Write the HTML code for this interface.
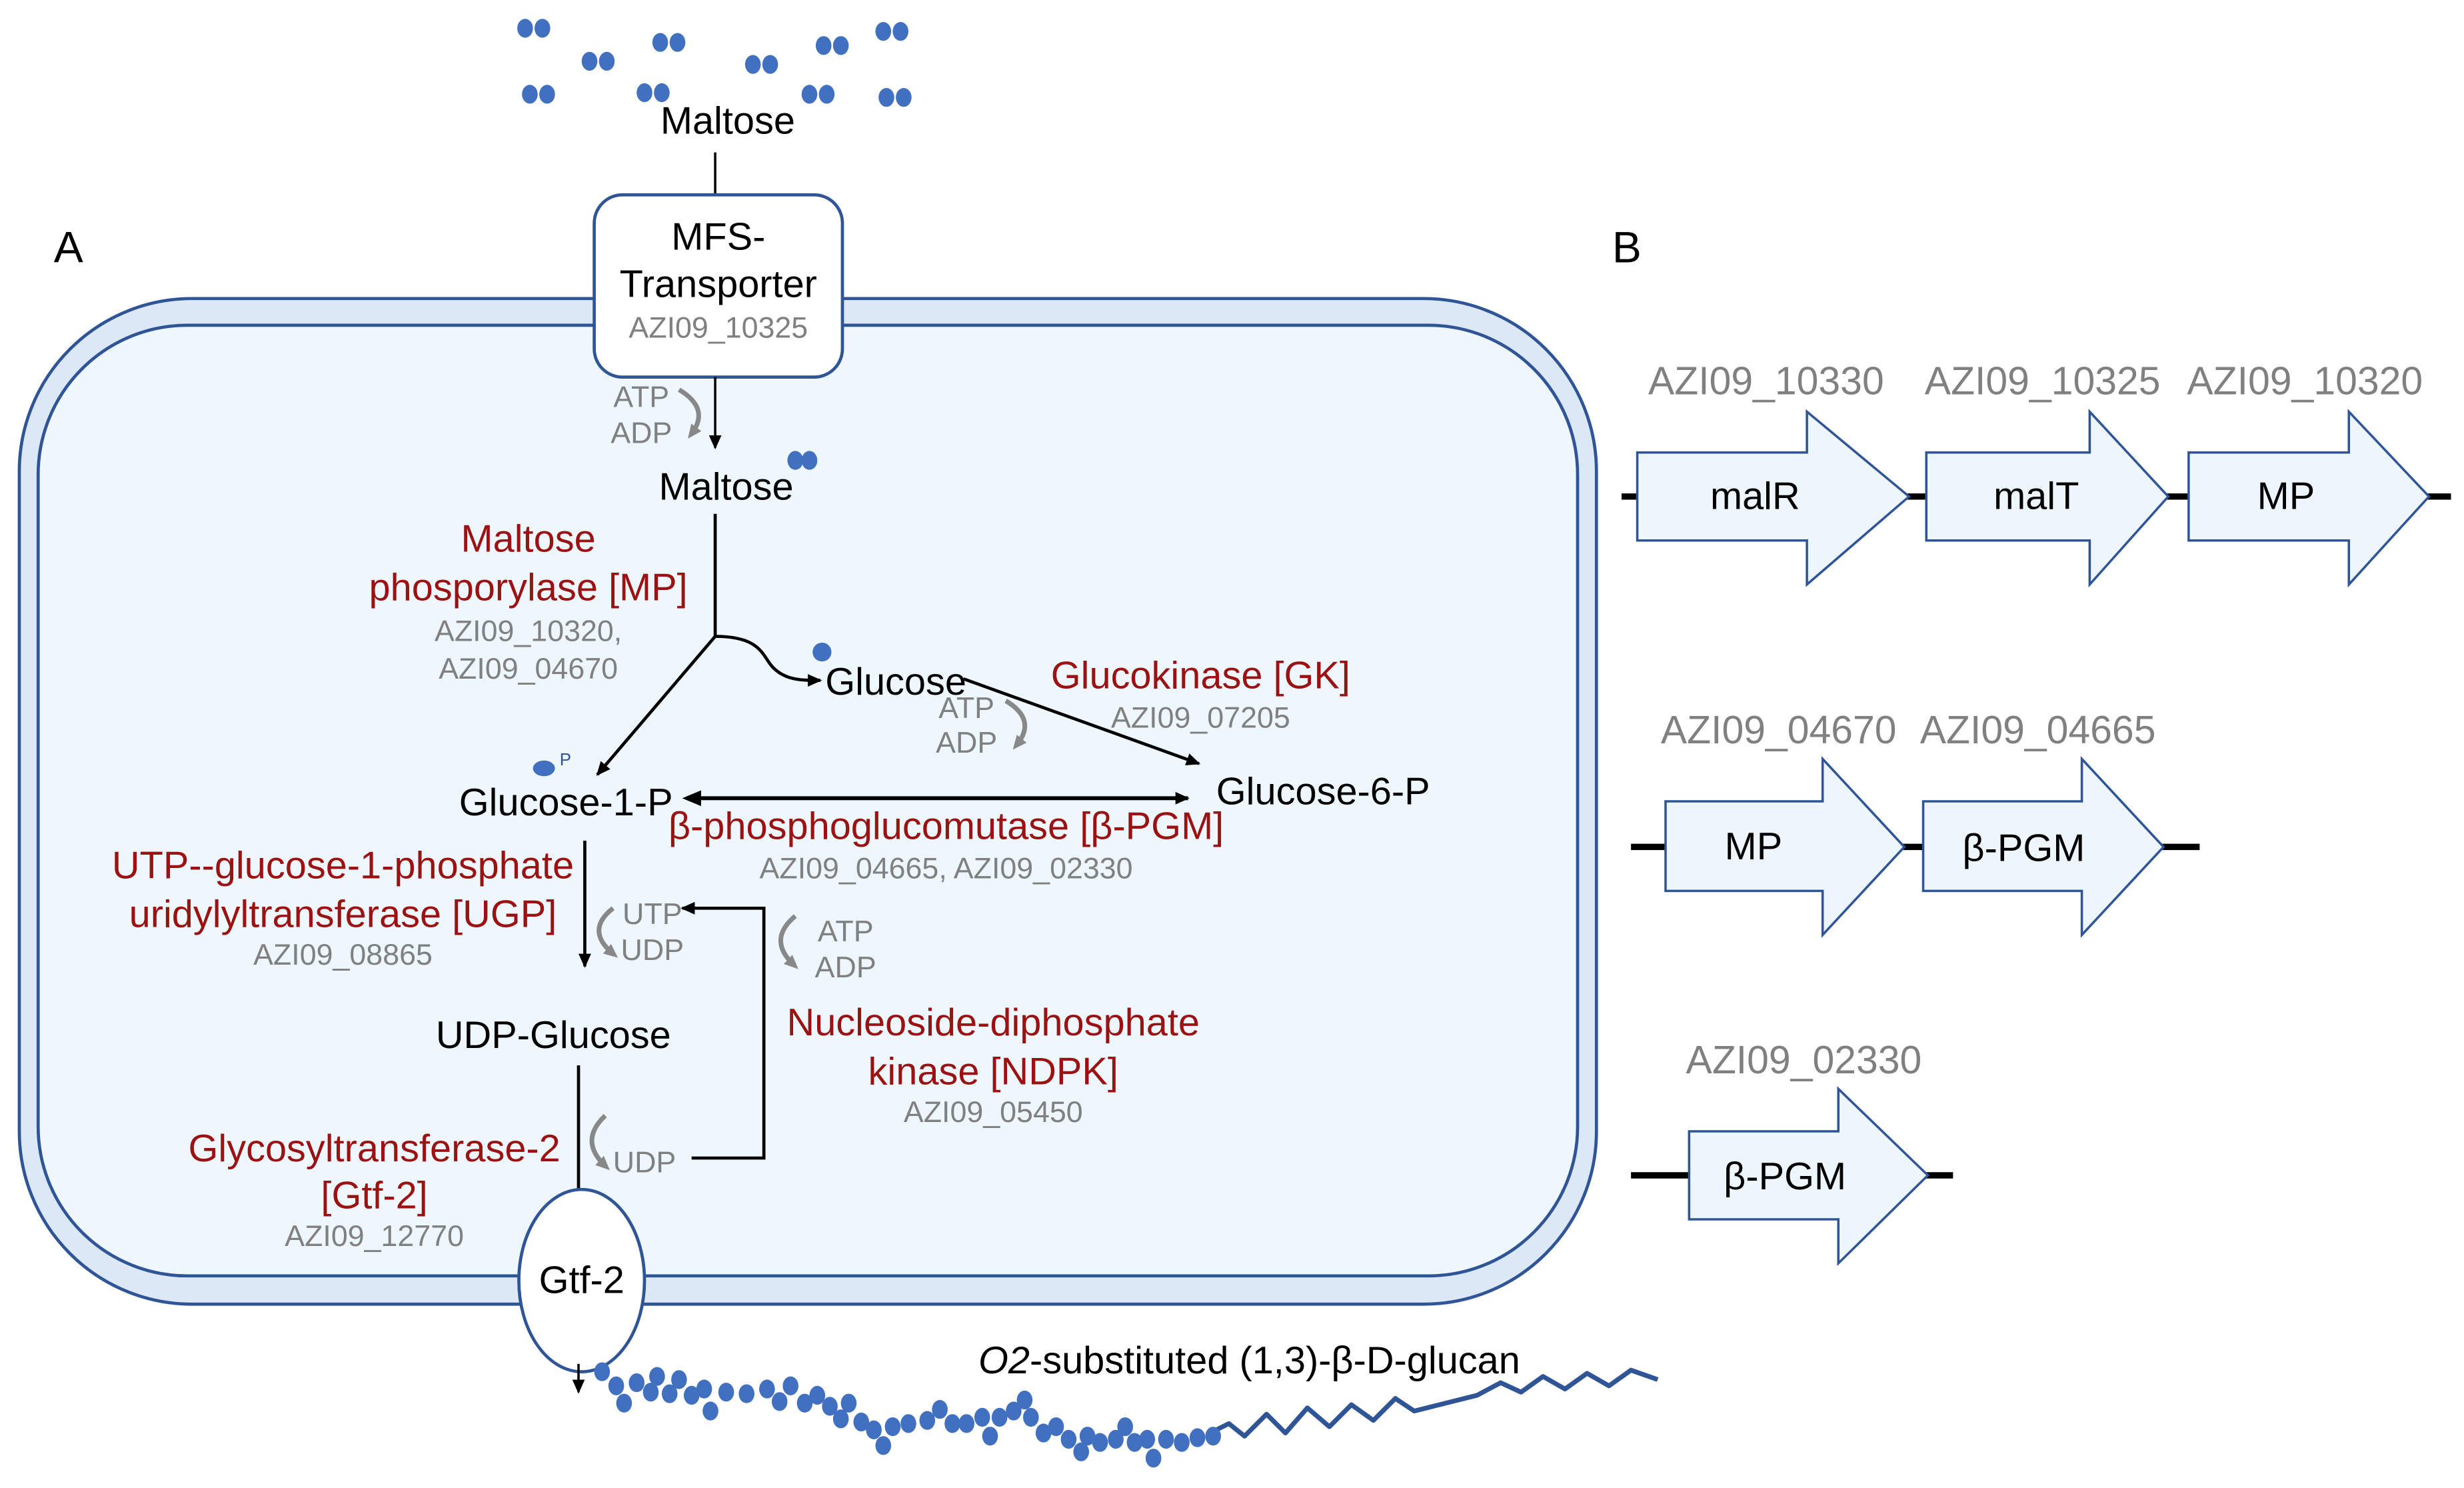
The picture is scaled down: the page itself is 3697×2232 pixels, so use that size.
<!DOCTYPE html>
<html><head><meta charset="utf-8"><style>
html,body{margin:0;padding:0;background:#fff}
svg{display:block}
text{font-family:"Liberation Sans",sans-serif}
.k{fill:#000;font-size:24.5px}
.r{fill:#9b1212;font-size:24.5px}
.g{fill:#808080;font-size:19px}
.gb{fill:#808080;font-size:25px}
.d{fill:#4170c0}
</style></head><body>
<svg width="3697" height="2232" viewBox="0 0 1568 947" xmlns="http://www.w3.org/2000/svg">
<defs>
<marker id="a" markerWidth="10" markerHeight="10" refX="8" refY="5" orient="auto" markerUnits="userSpaceOnUse"><path d="M0,1 L9,5 L0,9 z" fill="#000"/></marker>
<marker id="gA" markerWidth="10" markerHeight="10" refX="5" refY="5" orient="auto" markerUnits="userSpaceOnUse"><path d="M0,1 L9,5 L0,9 z" fill="#888"/></marker>
</defs>
<rect x="12" y="190" width="1004" height="640" rx="110" fill="#dce8f5" stroke="#2f5597" stroke-width="2"/>
<rect x="24" y="207" width="980" height="605" rx="95" fill="#eef7fe" stroke="#2f5597" stroke-width="2"/>
<g class="d">
<ellipse cx="334" cy="18" rx="5" ry="6"/><ellipse cx="345" cy="18" rx="5" ry="6"/>
<ellipse cx="375" cy="39" rx="5" ry="6"/><ellipse cx="386" cy="39" rx="5" ry="6"/>
<ellipse cx="420" cy="27" rx="5" ry="6"/><ellipse cx="431" cy="27" rx="5" ry="6"/>
<ellipse cx="479" cy="41" rx="5" ry="6"/><ellipse cx="490" cy="41" rx="5" ry="6"/>
<ellipse cx="524" cy="29" rx="5" ry="6"/><ellipse cx="535" cy="29" rx="5" ry="6"/>
<ellipse cx="562" cy="20" rx="5" ry="6"/><ellipse cx="573" cy="20" rx="5" ry="6"/>
<ellipse cx="337" cy="60" rx="5" ry="6"/><ellipse cx="348" cy="60" rx="5" ry="6"/>
<ellipse cx="410" cy="59" rx="5" ry="6"/><ellipse cx="421" cy="59" rx="5" ry="6"/>
<ellipse cx="515" cy="60" rx="5" ry="6"/><ellipse cx="526" cy="60" rx="5" ry="6"/>
<ellipse cx="564" cy="62" rx="5" ry="6"/><ellipse cx="575" cy="62" rx="5" ry="6"/>
<ellipse cx="506" cy="293" rx="5" ry="6"/><ellipse cx="515" cy="293" rx="5" ry="6"/>
<ellipse cx="523" cy="415" rx="6" ry="6"/>
<ellipse cx="346" cy="489" rx="7" ry="5"/>
</g>
<text x="356" y="487" fill="#2f5597" font-size="11">P</text>
<text x="463" y="85" class="k" text-anchor="middle">Maltose</text>
<line x1="455" y1="97" x2="455" y2="124" stroke="#000" stroke-width="1.5"/>
<rect x="378" y="124" width="158" height="116" rx="18" fill="#fff" stroke="#2f5597" stroke-width="2"/>
<text x="457" y="159" class="k" text-anchor="middle">MFS-</text>
<text x="457" y="189" class="k" text-anchor="middle">Transporter</text>
<text x="457" y="215" class="g" text-anchor="middle">AZI09_10325</text>
<text x="34" y="167" font-size="28" fill="#000">A</text>
<text x="1026" y="167" font-size="28" fill="#000">B</text>
<line x1="455" y1="240" x2="455" y2="285" stroke="#000" stroke-width="1.5" marker-end="url(#a)"/>
<text x="408" y="259" class="g" text-anchor="middle">ATP</text>
<text x="408" y="282" class="g" text-anchor="middle">ADP</text>
<path d="M432,248 Q452,260 440,276" fill="none" stroke="#888" stroke-width="3" marker-end="url(#gA)"/>
<text x="462" y="318" class="k" text-anchor="middle">Maltose</text>
<line x1="455" y1="327" x2="455" y2="405" stroke="#000" stroke-width="2"/>
<line x1="455" y1="405" x2="380" y2="493" stroke="#000" stroke-width="2" marker-end="url(#a)"/>
<path d="M455,405 C485,405 485,418 492,425 C500,433 510,433 522,433" fill="none" stroke="#000" stroke-width="2" marker-end="url(#a)"/>
<text x="336" y="351" class="r" text-anchor="middle">Maltose</text>
<text x="336" y="382" class="r" text-anchor="middle">phosporylase [MP]</text>
<text x="336" y="408" class="g" text-anchor="middle">AZI09_10320,</text>
<text x="336" y="432" class="g" text-anchor="middle">AZI09_04670</text>
<text x="570" y="442" class="k" text-anchor="middle">Glucose</text>
<line x1="613" y1="432" x2="763" y2="486" stroke="#000" stroke-width="2" marker-end="url(#a)"/>
<text x="764" y="438" class="r" text-anchor="middle">Glucokinase [GK]</text>
<text x="764" y="463" class="g" text-anchor="middle">AZI09_07205</text>
<text x="615" y="457" class="g" text-anchor="middle">ATP</text>
<text x="615" y="479" class="g" text-anchor="middle">ADP</text>
<path d="M640,446 Q660,458 647,474" fill="none" stroke="#888" stroke-width="3" marker-end="url(#gA)"/>
<text x="360" y="519" class="k" text-anchor="middle">Glucose-1-P</text>
<text x="842" y="512" class="k" text-anchor="middle">Glucose-6-P</text>
<line x1="440" y1="508" x2="756" y2="508" stroke="#000" stroke-width="2.5" marker-end="url(#a)"/>
<path d="M434,508 L446,503 L446,513 z" fill="#000"/>
<text x="602" y="534" class="r" text-anchor="middle">β-phosphoglucomutase [β-PGM]</text>
<text x="602" y="559" class="g" text-anchor="middle">AZI09_04665, AZI09_02330</text>
<line x1="372" y1="535" x2="372" y2="615" stroke="#000" stroke-width="2" marker-end="url(#a)"/>
<text x="218" y="559" class="r" text-anchor="middle">UTP--glucose-1-phosphate</text>
<text x="218" y="590" class="r" text-anchor="middle">uridylyltransferase [UGP]</text>
<text x="218" y="614" class="g" text-anchor="middle">AZI09_08865</text>
<text x="415" y="588" class="g" text-anchor="middle">UTP</text>
<text x="415" y="611" class="g" text-anchor="middle">UDP</text>
<path d="M390,578 Q372,592 390,607" fill="none" stroke="#888" stroke-width="3" marker-end="url(#gA)"/>
<polyline points="440,737 486,737 486,578 434,578" fill="none" stroke="#000" stroke-width="2" marker-end="url(#a)"/>
<text x="538" y="599" class="g" text-anchor="middle">ATP</text>
<text x="538" y="622" class="g" text-anchor="middle">ADP</text>
<path d="M506,583 Q488,598 505,614" fill="none" stroke="#888" stroke-width="3" marker-end="url(#gA)"/>
<text x="632" y="659" class="r" text-anchor="middle">Nucleoside-diphosphate</text>
<text x="632" y="690" class="r" text-anchor="middle">kinase [NDPK]</text>
<text x="632" y="714" class="g" text-anchor="middle">AZI09_05450</text>
<text x="352" y="667" class="k" text-anchor="middle">UDP-Glucose</text>
<line x1="368" y1="678" x2="368" y2="758" stroke="#000" stroke-width="2"/>
<text x="410" y="746" class="g" text-anchor="middle">UDP</text>
<path d="M385,710 Q368,726 385,742" fill="none" stroke="#888" stroke-width="3" marker-end="url(#gA)"/>
<text x="238" y="739" class="r" text-anchor="middle">Glycosyltransferase-2</text>
<text x="238" y="769" class="r" text-anchor="middle">[Gtf-2]</text>
<text x="238" y="793" class="g" text-anchor="middle">AZI09_12770</text>
<ellipse cx="370" cy="815" rx="40" ry="58" fill="#fff" stroke="#2f5597" stroke-width="2"/>
<text x="370" y="823" class="k" text-anchor="middle">Gtf-2</text>
<line x1="368" y1="868" x2="368" y2="886" stroke="#000" stroke-width="1.5" marker-end="url(#a)"/>
<path d="M770,912 L782,906 L792,914 L806,900 L818,912 L832,896 L846,908 L860,894 L874,904 L888,890 L900,898 L940,888 L955,880 L968,886 L982,876 L996,884 L1010,874 L1024,882 L1038,872 L1055,878" fill="none" stroke="#2f5597" stroke-width="3" stroke-linejoin="round"/>
<g class="d">
<ellipse cx="383" cy="873" rx="5" ry="6"/><ellipse cx="392" cy="882" rx="5" ry="6"/><ellipse cx="397" cy="893" rx="5" ry="6"/>
<ellipse cx="405" cy="880" rx="5" ry="6"/><ellipse cx="414" cy="886" rx="5" ry="6"/><ellipse cx="418" cy="876" rx="5" ry="6"/>
<ellipse cx="426" cy="887" rx="5" ry="6"/><ellipse cx="432" cy="878" rx="5" ry="6"/><ellipse cx="440" cy="888" rx="5" ry="6"/>
<ellipse cx="448" cy="884" rx="5" ry="6"/><ellipse cx="452" cy="898" rx="5" ry="6"/><ellipse cx="462" cy="886" rx="5" ry="6"/>
<ellipse cx="475" cy="887" rx="5" ry="6"/><ellipse cx="488" cy="884" rx="5" ry="6"/><ellipse cx="496" cy="892" rx="5" ry="6"/>
<ellipse cx="503" cy="882" rx="5" ry="6"/><ellipse cx="512" cy="893" rx="5" ry="6"/><ellipse cx="520" cy="888" rx="5" ry="6"/>
<ellipse cx="528" cy="895" rx="5" ry="6"/><ellipse cx="535" cy="903" rx="5" ry="6"/><ellipse cx="540" cy="893" rx="5" ry="6"/>
<ellipse cx="548" cy="905" rx="5" ry="6"/><ellipse cx="556" cy="910" rx="5" ry="6"/><ellipse cx="562" cy="920" rx="5" ry="6"/>
<ellipse cx="568" cy="908" rx="5" ry="6"/><ellipse cx="578" cy="906" rx="5" ry="6"/><ellipse cx="590" cy="904" rx="5" ry="6"/>
<ellipse cx="598" cy="897" rx="5" ry="6"/><ellipse cx="606" cy="906" rx="5" ry="6"/><ellipse cx="615" cy="906" rx="5" ry="6"/>
<ellipse cx="625" cy="902" rx="5" ry="6"/><ellipse cx="630" cy="914" rx="5" ry="6"/><ellipse cx="636" cy="902" rx="5" ry="6"/>
<ellipse cx="645" cy="898" rx="5" ry="6"/><ellipse cx="652" cy="891" rx="5" ry="6"/><ellipse cx="656" cy="902" rx="5" ry="6"/>
<ellipse cx="664" cy="912" rx="5" ry="6"/><ellipse cx="672" cy="908" rx="5" ry="6"/><ellipse cx="680" cy="916" rx="5" ry="6"/>
<ellipse cx="688" cy="924" rx="5" ry="6"/><ellipse cx="692" cy="914" rx="5" ry="6"/><ellipse cx="700" cy="918" rx="5" ry="6"/>
<ellipse cx="710" cy="916" rx="5" ry="6"/><ellipse cx="716" cy="908" rx="5" ry="6"/><ellipse cx="722" cy="918" rx="5" ry="6"/>
<ellipse cx="730" cy="916" rx="5" ry="6"/><ellipse cx="734" cy="928" rx="5" ry="6"/><ellipse cx="742" cy="916" rx="5" ry="6"/>
<ellipse cx="752" cy="918" rx="5" ry="6"/><ellipse cx="762" cy="915" rx="5" ry="6"/><ellipse cx="772" cy="914" rx="5" ry="6"/>
</g>
<text x="795" y="874" class="k" text-anchor="middle"><tspan font-style="italic">O2</tspan>-substituted (1,3)-β-D-glucan</text>
<g stroke="#000" stroke-width="4">
<line x1="1032" y1="316" x2="1560" y2="316"/>
<line x1="1038" y1="539" x2="1400" y2="539"/>
<line x1="1038" y1="748" x2="1243" y2="748"/>
</g>
<g fill="#eef6fd" stroke="#2f5597" stroke-width="1.5">
<path d="M1042,288 H1150 V262 L1215,316 L1150,372 V344 H1042 Z"/>
<path d="M1226,288 H1330 V262 L1380,316 L1330,372 V344 H1226 Z"/>
<path d="M1393,288 H1495 V262 L1546,316 L1495,372 V344 H1393 Z"/>
<path d="M1060,510 H1160 V483 L1212,539 L1160,595 V567 H1060 Z"/>
<path d="M1224,510 H1325 V483 L1377,539 L1325,595 V567 H1224 Z"/>
<path d="M1075,720 H1170 V693 L1227,748 L1170,804 V776 H1075 Z"/>
</g>
<text x="1117" y="324" class="k" text-anchor="middle">malR</text>
<text x="1296" y="324" class="k" text-anchor="middle">malT</text>
<text x="1455" y="324" class="k" text-anchor="middle">MP</text>
<text x="1116" y="547" class="k" text-anchor="middle">MP</text>
<text x="1288" y="548" class="k" text-anchor="middle">β-PGM</text>
<text x="1136" y="757" class="k" text-anchor="middle">β-PGM</text>
<text x="1124" y="251" class="gb" text-anchor="middle">AZI09_10330</text>
<text x="1300" y="251" class="gb" text-anchor="middle">AZI09_10325</text>
<text x="1467" y="251" class="gb" text-anchor="middle">AZI09_10320</text>
<text x="1132" y="473" class="gb" text-anchor="middle">AZI09_04670</text>
<text x="1297" y="473" class="gb" text-anchor="middle">AZI09_04665</text>
<text x="1148" y="683" class="gb" text-anchor="middle">AZI09_02330</text>
</svg>
</body></html>
